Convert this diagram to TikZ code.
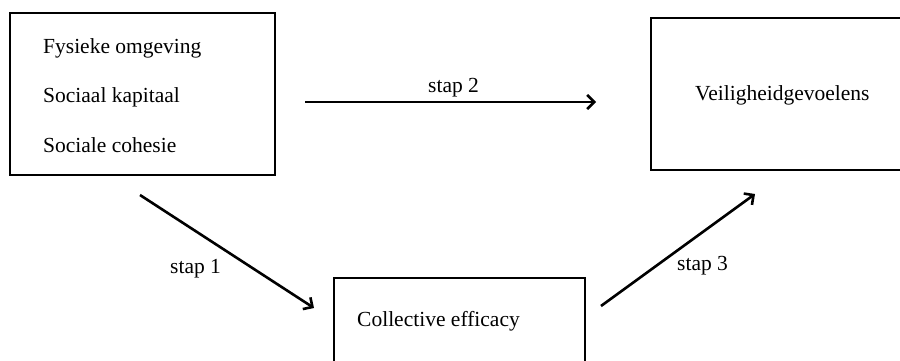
\documentclass[tikz,border=0pt]{standalone}
\usepackage{fontspec}
\setmainfont{Liberation Serif}
\usetikzlibrary{arrows.meta}
\begin{document}
\begin{tikzpicture}[x=1pt,y=-1pt,
  boxstyle/.style={draw=black,line width=1.4pt},
  lbl/.style={inner sep=0pt,anchor=base west,font=\fontsize{21.5}{25}\selectfont},
  arr/.style={line width=2.6pt,-{Straight Barb[length=7pt,width=14pt,line width=2.6pt]}}]
\useasboundingbox (0,0) rectangle (900,360);
\clip (0,0) rectangle (900,360);
\fill[white] (0,0) rectangle (900,360);
% boxes
\draw[boxstyle] (10,13) rectangle (275,175);
\node[minimum width=265pt,minimum height=162pt,inner sep=0pt] (box1) at (142.5,94) {};
\draw[boxstyle] (651,18) rectangle (920,170);
\node[minimum width=269pt,minimum height=152pt,inner sep=0pt] (box2) at (785.5,94) {};
\draw[boxstyle] (334,278) rectangle (585,390);
\node[minimum width=251pt,minimum height=112pt,inner sep=0pt] (box3) at (459.5,334) {};
% texts
\node[lbl] (t1) at (43,53) {Fysieke omgeving};
\node[lbl] (t2) at (43,102) {Sociaal kapitaal};
\node[lbl] (t3) at (43,152) {Sociale cohesie};
\node[lbl] (t4) at (695,100) {Veiligheidgevoelens};
\node[lbl] (t5) at (357,326) {Collective efficacy};
% arrow endpoints
\coordinate (a2s) at (305,102);
\coordinate (a2e) at (596,102);
\coordinate (a1s) at (140,195);
\coordinate (a1e) at (314,308);
\coordinate (a3s) at (601,306);
\coordinate (a3e) at (755,194);
\draw[arr] (a2s) -- (a2e);
\draw[arr] (a1s) -- (a1e);
\draw[arr] (a3s) -- (a3e);
% labels
\node[lbl] (l2) at (428,92) {stap 2};
\node[lbl] (l1) at (170,273) {stap 1};
\node[lbl] (l3) at (677,270) {stap 3};
\end{tikzpicture}
\end{document}
